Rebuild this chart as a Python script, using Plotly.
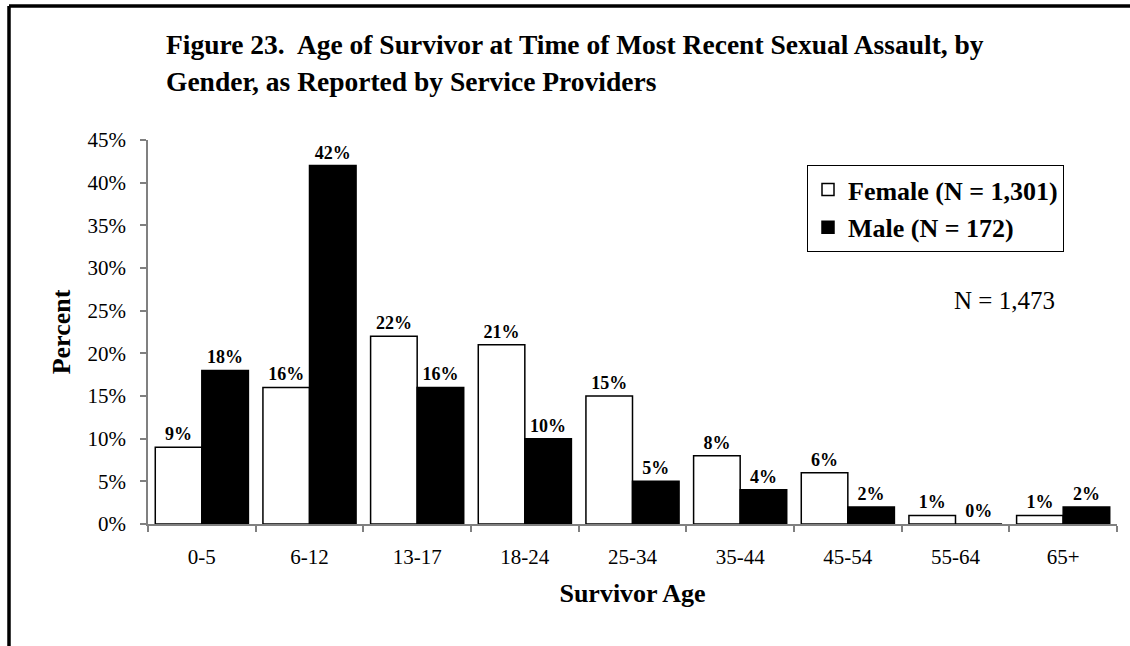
import plotly.graph_objects as go

categories = ["0-5", "6-12", "13-17", "18-24", "25-34", "35-44", "45-54", "55-64", "65+"]
female = [9, 16, 22, 21, 15, 8, 6, 1, 1]
male = [18, 42, 16, 10, 5, 4, 2, 0, 2]
female_name = "Female (N = 1,301)"
male_name = "Male (N = 172)"
y_ticks = [0, 5, 10, 15, 20, 25, 30, 35, 40, 45]
y_ticklabels = [f"{v}%" for v in y_ticks]

SERIF = "Liberation Serif, Times New Roman, serif"
W, H = 1130, 646
L, R, T, B = 148, 13, 140, 122
pw, ph = W - L - R, H - T - B

def px_x(p):
    return (p - L) / pw

def px_y(p):
    return (H - B - p) / ph

fig = go.Figure()
fig.add_trace(go.Bar(
    x=categories, y=female, name=female_name,
    marker=dict(color="white", line=dict(color="black", width=1.5)),
    text=[f"{v}%" for v in female], textposition="outside",
    textfont=dict(family=SERIF, size=18, color="black", weight="bold"),
    cliponaxis=False, legendgroup="f",
))
fig.add_trace(go.Bar(
    x=categories, y=male, name=male_name,
    marker=dict(color="black", line=dict(color="black", width=1.5)),
    text=[f"{v}%" for v in male], textposition="outside",
    textfont=dict(family=SERIF, size=18, color="black", weight="bold"),
    cliponaxis=False, legendgroup="m",
))

fig.update_layout(
    width=W, height=H,
    margin=dict(l=L, r=R, t=T, b=B, autoexpand=False),
    paper_bgcolor="white", plot_bgcolor="white",
    barmode="group", bargap=0.135, bargroupgap=0,
    font=dict(family=SERIF, color="black", size=21),
    showlegend=True,
    legend=dict(
        x=px_x(807), y=px_y(165), xanchor="left", yanchor="top",
        bordercolor="black", borderwidth=1, bgcolor="white",
        font=dict(family=SERIF, size=26, color="black", weight="bold"),
        traceorder="grouped", tracegroupgap=1, itemwidth=30,
    ),
)
fig.update_xaxes(
    showline=True, linecolor="#808080", linewidth=1.5,
    ticks="outside", ticklen=6, tickcolor="#808080", tickwidth=1.5,
    tickson="boundaries", showgrid=False,
    tickfont=dict(family=SERIF, size=21, color="black"),
    ticklabelstandoff=13,
    title=dict(text="<b>Survivor Age</b>", font=dict(family=SERIF, size=26, color="black"), standoff=16),
)
fig.update_yaxes(
    range=[0, 45], tickvals=y_ticks, ticktext=y_ticklabels,
    showline=True, linecolor="#808080", linewidth=1.5,
    ticks="outside", ticklen=6, tickcolor="#808080", tickwidth=1.5,
    showgrid=False, zeroline=False,
    tickfont=dict(family=SERIF, size=21, color="black"),
    ticklabelstandoff=10,
    title=dict(text="<b>Percent</b>", font=dict(family=SERIF, size=26, color="black"), standoff=9),
)

fig.add_annotation(
    xref="paper", yref="paper", x=px_x(164), y=px_y(44), xanchor="left", yanchor="middle",
    text="<b>Figure 23.  Age of Survivor at Time of Most Recent Sexual Assault, by</b>",
    showarrow=False, font=dict(family=SERIF, size=27.5, color="black"),
)
fig.add_annotation(
    xref="paper", yref="paper", x=px_x(164), y=px_y(81), xanchor="left", yanchor="middle",
    text="<b>Gender, as Reported by Service Providers</b>",
    showarrow=False, font=dict(family=SERIF, size=27.5, color="black"),
)
fig.add_annotation(
    xref="paper", yref="paper", x=px_x(1004), y=px_y(300), xanchor="center", yanchor="middle",
    text="N = 1,473", showarrow=False, font=dict(family=SERIF, size=25, color="black"),
)

# outer frame (top and left edges)
fig.add_shape(type="line", xref="paper", yref="paper",
              x0=px_x(9), x1=px_x(1135), y0=px_y(6), y1=px_y(6),
              line=dict(color="black", width=3.5))
fig.add_shape(type="line", xref="paper", yref="paper",
              x0=px_x(9), x1=px_x(9), y0=px_y(6), y1=px_y(660),
              line=dict(color="black", width=3.5))

fig.write_html("out.html", config={"displayModeBar": False},
               post_script="document.body.style.margin='0px';")
